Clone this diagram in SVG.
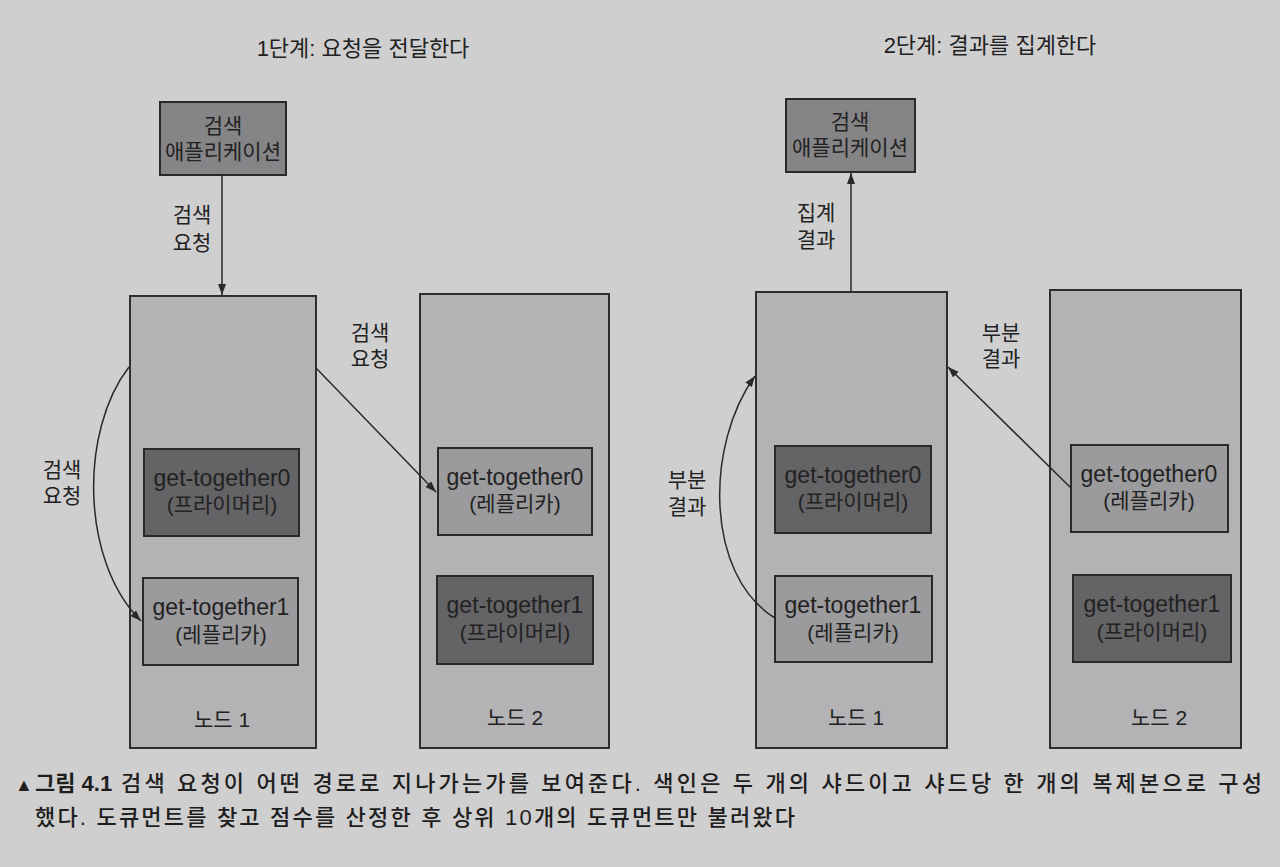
<svg xmlns="http://www.w3.org/2000/svg" width="1280" height="867" viewBox="0 0 1280 867">
<defs>
<style>
.bg{fill:#d0cfd0}
.node{fill:#b3b2b4;stroke:#2e2e2e;stroke-width:2}
.app{fill:#858486;stroke:#2a2a2a;stroke-width:2}
.dark{fill:#646365;stroke:#2a2a2a;stroke-width:2}
.light{fill:#9b9a9c;stroke:#2a2a2a;stroke-width:2}
text{font-family:"Liberation Sans","Noto Sans CJK KR",sans-serif;fill:#222222;text-anchor:middle}
.t{font-size:22px}
.k{font-size:21px}
.s{font-size:23px}
.cap{font-size:22px;text-anchor:start;fill:#1e1e1e;font-weight:500}
.conn{fill:none;stroke:#2a2a2a;stroke-width:1.5}
</style>
<marker id="ah" markerUnits="userSpaceOnUse" markerWidth="12" markerHeight="10" refX="11" refY="4" orient="auto">
<path d="M0,0 L11,4 L0,8 Z" fill="#2a2a2a"/>
</marker>
</defs>
<rect class="bg" x="0" y="0" width="1280" height="867"/>

<text class="t" x="363" y="56">1단계: 요청을 전달한다</text>
<text class="t" x="990" y="53">2단계: 결과를 집계한다</text>

<g id="app1">
<rect class="app" x="160" y="102" width="126" height="73"/>
<text class="k" x="223" y="133">검색</text>
<text class="k" x="223" y="159">애플리케이션</text>
</g>
<g id="p1node1">
<rect class="node" x="130" y="296" width="186" height="452"/>
<text class="k" x="222" y="727">노드 1</text>
</g>
<g id="p1node2">
<rect class="node" x="420" y="294" width="189" height="454"/>
<text class="k" x="515" y="725">노드 2</text>
</g>
<g id="p1n1s0">
<rect class="dark" x="144" y="449" width="155" height="87"/>
<text class="s" x="222" y="486">get-together0</text>
<text class="k" x="222" y="512">(프라이머리)</text>
</g>
<g id="p1n1s1">
<rect class="light" x="143" y="578" width="155" height="87"/>
<text class="s" x="221" y="615">get-together1</text>
<text class="k" x="221" y="642">(레플리카)</text>
</g>
<g id="p1n2s0">
<rect class="light" x="438" y="448" width="154" height="87"/>
<text class="s" x="515" y="485">get-together0</text>
<text class="k" x="515" y="511">(레플리카)</text>
</g>
<g id="p1n2s1">
<rect class="dark" x="437" y="576" width="156" height="88"/>
<text class="s" x="515" y="613">get-together1</text>
<text class="k" x="515" y="640">(프라이머리)</text>
</g>

<g id="app2">
<rect class="app" x="786" y="99" width="129" height="73"/>
<text class="k" x="850" y="129">검색</text>
<text class="k" x="850" y="155">애플리케이션</text>
</g>
<g id="p2node1">
<rect class="node" x="756" y="292" width="191" height="456"/>
<text class="k" x="856" y="725">노드 1</text>
</g>
<g id="p2node2">
<rect class="node" x="1050" y="290" width="191" height="458"/>
<text class="k" x="1159" y="725">노드 2</text>
</g>
<g id="p2n1s0">
<rect class="dark" x="775" y="446" width="156" height="87"/>
<text class="s" x="853" y="483">get-together0</text>
<text class="k" x="853" y="509">(프라이머리)</text>
</g>
<g id="p2n1s1">
<rect class="light" x="775" y="576" width="157" height="86"/>
<text class="s" x="853" y="613">get-together1</text>
<text class="k" x="853" y="640">(레플리카)</text>
</g>
<g id="p2n2s0">
<rect class="light" x="1071" y="445" width="157" height="87"/>
<text class="s" x="1149" y="482">get-together0</text>
<text class="k" x="1149" y="508">(레플리카)</text>
</g>
<g id="p2n2s1">
<rect class="dark" x="1073" y="575" width="158" height="87"/>
<text class="s" x="1152" y="612">get-together1</text>
<text class="k" x="1152" y="639">(프라이머리)</text>
</g>

<g id="connectors">
<line class="conn" x1="222" y1="175" x2="222" y2="295" marker-end="url(#ah)"/>
<line class="conn" x1="316" y1="368" x2="436" y2="492" marker-end="url(#ah)"/>
<path class="conn" d="M129,367 C80,430 80,560 141,621" marker-end="url(#ah)"/>
<line class="conn" x1="851" y1="292" x2="851" y2="173" marker-end="url(#ah)"/>
<line class="conn" x1="1071" y1="488" x2="948" y2="367" marker-end="url(#ah)"/>
<path class="conn" d="M775,618 C705,575 705,445 755,376" marker-end="url(#ah)"/>
</g>

<g id="labels">
<text class="k" x="192" y="222">검색</text>
<text class="k" x="192" y="250">요청</text>
<text class="k" x="370" y="340">검색</text>
<text class="k" x="370" y="366">요청</text>
<text class="k" x="62" y="477">검색</text>
<text class="k" x="62" y="503">요청</text>
<text class="k" x="816" y="220">집계</text>
<text class="k" x="816" y="247">결과</text>
<text class="k" x="1001" y="340">부분</text>
<text class="k" x="1001" y="366">결과</text>
<text class="k" x="687" y="487">부분</text>
<text class="k" x="687" y="514">결과</text>
</g>

<g id="caption">
<text class="cap" x="15" y="791" style="font-size:18px">▲</text>
<text class="cap" x="35" y="791" style="font-weight:bold">그림 4.1</text>
<text class="cap" x="121" y="791" textLength="1141" lengthAdjust="spacing">검색 요청이 어떤 경로로 지나가는가를 보여준다. 색인은 두 개의 샤드이고 샤드당 한 개의 복제본으로 구성</text>
<text class="cap" x="35" y="825" textLength="760" lengthAdjust="spacing">했다. 도큐먼트를 찾고 점수를 산정한 후 상위 10개의 도큐먼트만 불러왔다</text>
</g>
</svg>
